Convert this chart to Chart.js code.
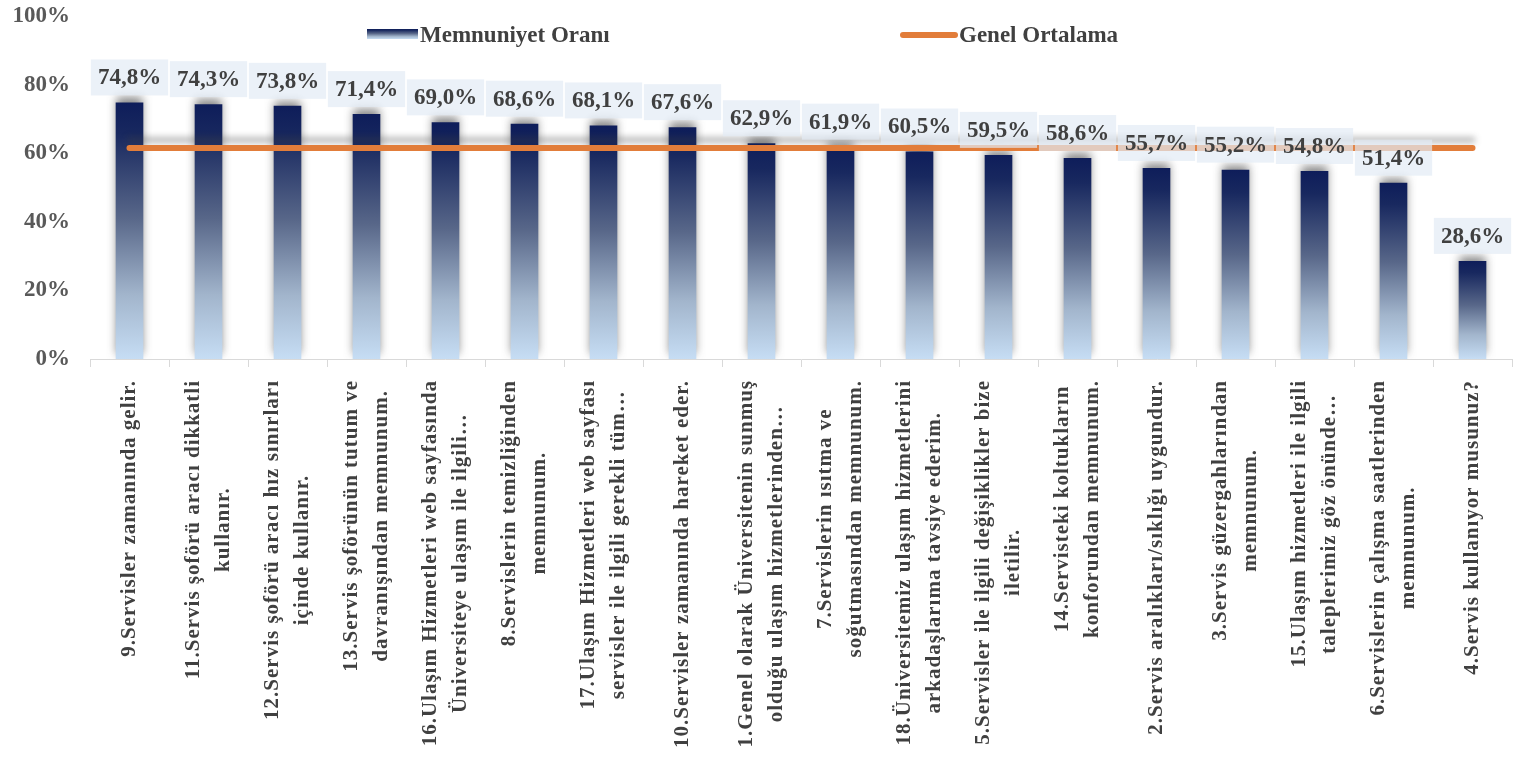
<!DOCTYPE html>
<html lang="tr">
<head>
<meta charset="utf-8">
<title>Memnuniyet Oranı</title>
<script src="https://cdn.jsdelivr.net/npm/chart.js@4.4.1/dist/chart.umd.min.js"></script>
<style>
  html, body { margin: 0; padding: 0; background: #fff; }
  #wrap { width: 1529px; height: 763px; }
</style>
</head>
<body>
<div id="wrap"><canvas id="chart" width="1529" height="763"></canvas></div>
<script>
// soru etiketleri (grafikteki gibi kısaltılmış, iki satır)
const sorular = [
  ["9.Servisler zamanında gelir."],
  ["11.Servis şoförü aracı dikkatli", "kullanır."],
  ["12.Servis şoförü aracı hız sınırları", "içinde kullanır."],
  ["13.Servis şoförünün tutum ve", "davranışından memnunum."],
  ["16.Ulaşım Hizmetleri web sayfasında", "Üniversiteye ulaşım ile ilgili…"],
  ["8.Servislerin temizliğinden", "memnunum."],
  ["17.Ulaşım Hizmetleri web sayfası", "servisler ile ilgili gerekli tüm…"],
  ["10.Servisler zamanında hareket eder."],
  ["1.Genel olarak Üniversitenin sunmuş", "olduğu ulaşım hizmetlerinden…"],
  ["7.Servislerin ısıtma ve", "soğutmasından memnunum."],
  ["18.Üniversitemiz ulaşım hizmetlerini", "arkadaşlarıma tavsiye ederim."],
  ["5.Servisler ile ilgili değişiklikler bize", "iletilir."],
  ["14.Servisteki koltukların", "konforundan memnunum."],
  ["2.Servis aralıkları/sıklığı uygundur."],
  ["3.Servis güzergahlarından", "memnunum."],
  ["15.Ulaşım hizmetleri ile ilgili", "taleplerimiz göz önünde…"],
  ["6.Servislerin çalışma saatlerinden", "memnunum."],
  ["4.Servis kullanıyor musunuz?"]
];

const memnuniyetOrani = [74.8, 74.3, 73.8, 71.4, 69.0, 68.6, 68.1, 67.6, 62.9, 61.9, 60.5, 59.5, 58.6, 55.7, 55.2, 54.8, 51.4, 28.6];

const genelOrtalama = [61.5, 61.5, 61.5, 61.5, 61.5, 61.5, 61.5, 61.5, 61.5, 61.5, 61.5, 61.5, 61.5, 61.5, 61.5, 61.5, 61.5, 61.5];

const yuzdeTikleri = [0, 20, 40, 60, 80, 100];

const FONT = '"Liberation Serif", "Times New Roman", serif';
const TEXT = '#404040';

function barGradient(c, top, bottom) {
  let g = c.createLinearGradient(0, top, 0, bottom);
  g.addColorStop(0, '#0e1d5a');
  g.addColorStop(0.12, '#18285f');
  g.addColorStop(0.45, '#586789');
  g.addColorStop(0.75, '#a2b5cc');
  g.addColorStop(1, '#c6ddf4');
  return g;
}

// gölgeler: çubukların ve ortalama çizgisinin üstünde gri hale
const shadowPlugin = {
  id: 'shadows',
  beforeDatasetDraw(chart, args) {
    const c = chart.ctx;
    c.save();
    if (args.index === 0) {
      c.shadowColor = 'rgba(40,40,40,0.55)';
      c.shadowBlur = 9;
      c.shadowOffsetY = -5;
    } else {
      c.shadowColor = 'rgba(60,60,60,0.35)';
      c.shadowBlur = 6;
      c.shadowOffsetY = -8;
    }
  },
  afterDatasetDraw(chart) {
    chart.ctx.restore();
  }
};

// değer etiketleri (açık zeminli kutu içinde)
const valueLabels = {
  id: 'valueLabels',
  afterDatasetsDraw(chart) {
    const c = chart.ctx;
    const meta = chart.getDatasetMeta(0);
    c.save();
    c.font = 'bold 23px ' + FONT;
    c.textAlign = 'center';
    c.textBaseline = 'middle';
    meta.data.forEach(function (bar, i) {
      let txt = memnuniyetOrani[i].toFixed(1).replace('.', ',') + '%';
      let w = c.measureText(txt).width + 14;
      let h = 36;
      let bottom = bar.y - 7;
      c.fillStyle = 'rgba(226,235,245,0.7)';
      c.fillRect(bar.x - w / 2, bottom - h, w, h);
      c.fillStyle = TEXT;
      c.fillText(txt, bar.x, bottom - h / 2 + 1);
    });
    c.restore();
  }
};

// dikey kategori etiketleri, satırlar ortalı
const catLabels = {
  id: 'catLabels',
  afterDraw(chart) {
    const c = chart.ctx;
    const x = chart.scales.x;
    const startY = x.top + 21;
    c.save();
    c.font = 'bold 21px ' + FONT;
    if ('letterSpacing' in c) c.letterSpacing = '1px';
    c.fillStyle = TEXT;
    c.textAlign = 'center';
    c.textBaseline = 'middle';
    sorular.forEach(function (lines, i) {
      let cx = x.getPixelForValue(i);
      let w = Math.max.apply(null, lines.map(l => c.measureText(l).width));
      c.save();
      c.translate(cx, startY + w / 2);
      c.rotate(-Math.PI / 2);
      lines.forEach(function (l, k) {
        c.fillText(l, 0, (k - (lines.length - 1) / 2) * 30);
      });
      c.restore();
    });
    c.restore();
  }
};

// lejant
const legendPlugin = {
  id: 'customLegend',
  afterDraw(chart) {
    const c = chart.ctx;
    c.save();
    c.fillStyle = barGradient(c, 29, 39);
    c.fillRect(367, 29, 51, 10);
    c.strokeStyle = '#e27d3a';
    c.lineWidth = 6;
    c.lineCap = 'round';
    c.beginPath();
    c.moveTo(903, 35);
    c.lineTo(955, 35);
    c.stroke();
    c.font = 'bold 23px ' + FONT;
    c.fillStyle = TEXT;
    c.textBaseline = 'middle';
    c.fillText(chart.data.datasets[0].label, 420, 36);
    c.fillText(chart.data.datasets[1].label, 959, 36);
    c.restore();
  }
};

new Chart(document.getElementById('chart').getContext('2d'), {
  type: 'bar',
  data: {
    labels: sorular,
    datasets: [
      {
        label: 'Memnuniyet Oranı',
        data: memnuniyetOrani,
        order: 1,
        backgroundColor: function (ctx) {
          const chart = ctx.chart;
          if (!chart.chartArea) return '#18285f';
          const y = chart.scales.y;
          return barGradient(chart.ctx, y.getPixelForValue(ctx.raw), y.getPixelForValue(0));
        },
        borderWidth: 0,
        categoryPercentage: 1,
        barPercentage: 0.35,
      },
      {
        type: 'line',
        label: 'Genel Ortalama',
        data: genelOrtalama,
        order: 0,
        borderColor: '#e27d3a',
        borderWidth: 6,
        borderCapStyle: 'round',
        pointRadius: 0,
        tension: 0,
        fill: false,
      },
    ],
  },
  options: {
    responsive: false,
    animation: false,
    devicePixelRatio: 1,
    layout: { padding: { top: 0, right: 17, left: 0, bottom: 0 } },
    plugins: {
      legend: { display: false },
      tooltip: { enabled: false },
    },
    scales: {
      x: {
        offset: true,
        grid: {
          display: true,
          offset: true,
          drawOnChartArea: false,
          drawTicks: true,
          tickLength: 8,
          color: '#d9d9d9',
        },
        border: { display: true, color: '#d9d9d9' },
        ticks: { display: false },
        afterFit: function (scale) { scale.height = 404; },
      },
      y: {
        min: 0,
        max: 100,
        afterBuildTicks: function (scale) {
          scale.ticks = yuzdeTikleri.map(v => ({ value: v }));
        },
        grid: { display: false, drawTicks: false },
        border: { display: false },
        ticks: {
          padding: 20,
          color: '#595959',
          font: { family: FONT, size: 23, weight: 'bold' },
          callback: function (v) { return v + '%'; },
        },
        afterFit: function (scale) {
          scale.width = 90;
          scale.paddingTop = 16;
          scale.paddingBottom = 0;
        },
      },
    },
  },
  plugins: [shadowPlugin, valueLabels, catLabels, legendPlugin],
});
</script>
</body>
</html>
